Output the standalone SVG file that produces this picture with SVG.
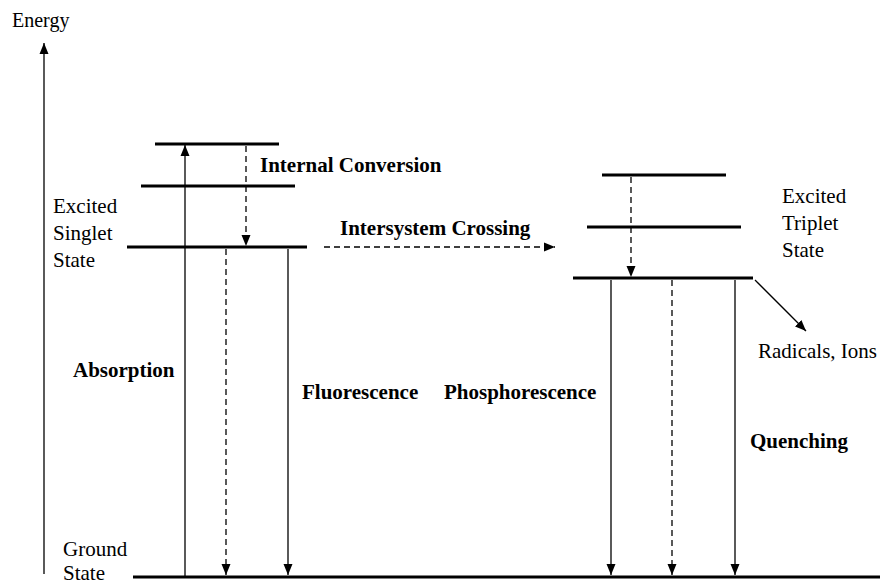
<svg xmlns="http://www.w3.org/2000/svg" width="880" height="586" viewBox="0 0 880 586">
<defs>
<marker id="ah" markerUnits="userSpaceOnUse" markerWidth="12" markerHeight="12" viewBox="0 0 12 12" refX="11" refY="6" orient="auto">
<path d="M0,1.5 L11,6 L0,10.5 Z" fill="#000"/>
</marker>
</defs>
<style>
text{font-family:"Liberation Serif","Times New Roman",serif;font-size:21px;fill:#000}
.b{font-weight:bold}
.lvl{stroke:#000;stroke-width:3;fill:none}
.ln{stroke:#000;stroke-width:1.3;fill:none}
.ds{stroke:#000;stroke-width:1.3;fill:none;stroke-dasharray:6,4}
</style>
<rect width="880" height="586" fill="#fff"/>
<g id="axis">
<line class="ln" x1="44" y1="574" x2="44" y2="43" marker-end="url(#ah)"/>
<text x="12" y="27" style="font-size:20px">Energy</text>
</g>
<g id="singlet">
<line class="lvl" x1="155" y1="144" x2="279" y2="144"/>
<line class="lvl" x1="141" y1="186" x2="295" y2="186"/>
<line class="lvl" x1="127" y1="247" x2="307" y2="247"/>
<text x="53" y="213">Excited</text>
<text x="53" y="240">Singlet</text>
<text x="53" y="267">State</text>
</g>
<g id="triplet">
<line class="lvl" x1="602" y1="175" x2="726" y2="175"/>
<line class="lvl" x1="587" y1="227" x2="741" y2="227"/>
<line class="lvl" x1="573" y1="278" x2="753" y2="278"/>
<text x="782" y="203">Excited</text>
<text x="782" y="230">Triplet</text>
<text x="782" y="257">State</text>
</g>
<g id="ground">
<line class="lvl" x1="133" y1="577" x2="880" y2="577"/>
<text x="63" y="556">Ground</text>
<text x="63" y="580">State</text>
</g>
<g id="connectors">
<line class="ln" x1="185" y1="576" x2="185" y2="145" marker-end="url(#ah)"/>
<line class="ds" x1="246" y1="146" x2="246" y2="246" marker-end="url(#ah)"/>
<line class="ds" x1="226" y1="249" x2="226" y2="575" marker-end="url(#ah)"/>
<line class="ln" x1="288" y1="249" x2="288" y2="575" marker-end="url(#ah)"/>
<line class="ds" x1="324" y1="247" x2="555" y2="247" marker-end="url(#ah)"/>
<line class="ds" x1="631" y1="177" x2="631" y2="277" marker-end="url(#ah)"/>
<line class="ln" x1="611" y1="280" x2="611" y2="575" marker-end="url(#ah)"/>
<line class="ds" x1="672" y1="280" x2="672" y2="575" marker-end="url(#ah)"/>
<line class="ln" x1="735" y1="280" x2="735" y2="575" marker-end="url(#ah)"/>
<line class="ln" x1="755" y1="280" x2="806" y2="331" marker-end="url(#ah)"/>
</g>
<g id="labels">
<text class="b" x="260" y="172">Internal Conversion</text>
<text class="b" x="340" y="235">Intersystem Crossing</text>
<text class="b" x="73" y="377">Absorption</text>
<text class="b" x="302" y="399">Fluorescence</text>
<text class="b" x="444" y="399">Phosphorescence</text>
<text class="b" x="750" y="448">Quenching</text>
<text x="758" y="358">Radicals, Ions</text>
</g>
</svg>
